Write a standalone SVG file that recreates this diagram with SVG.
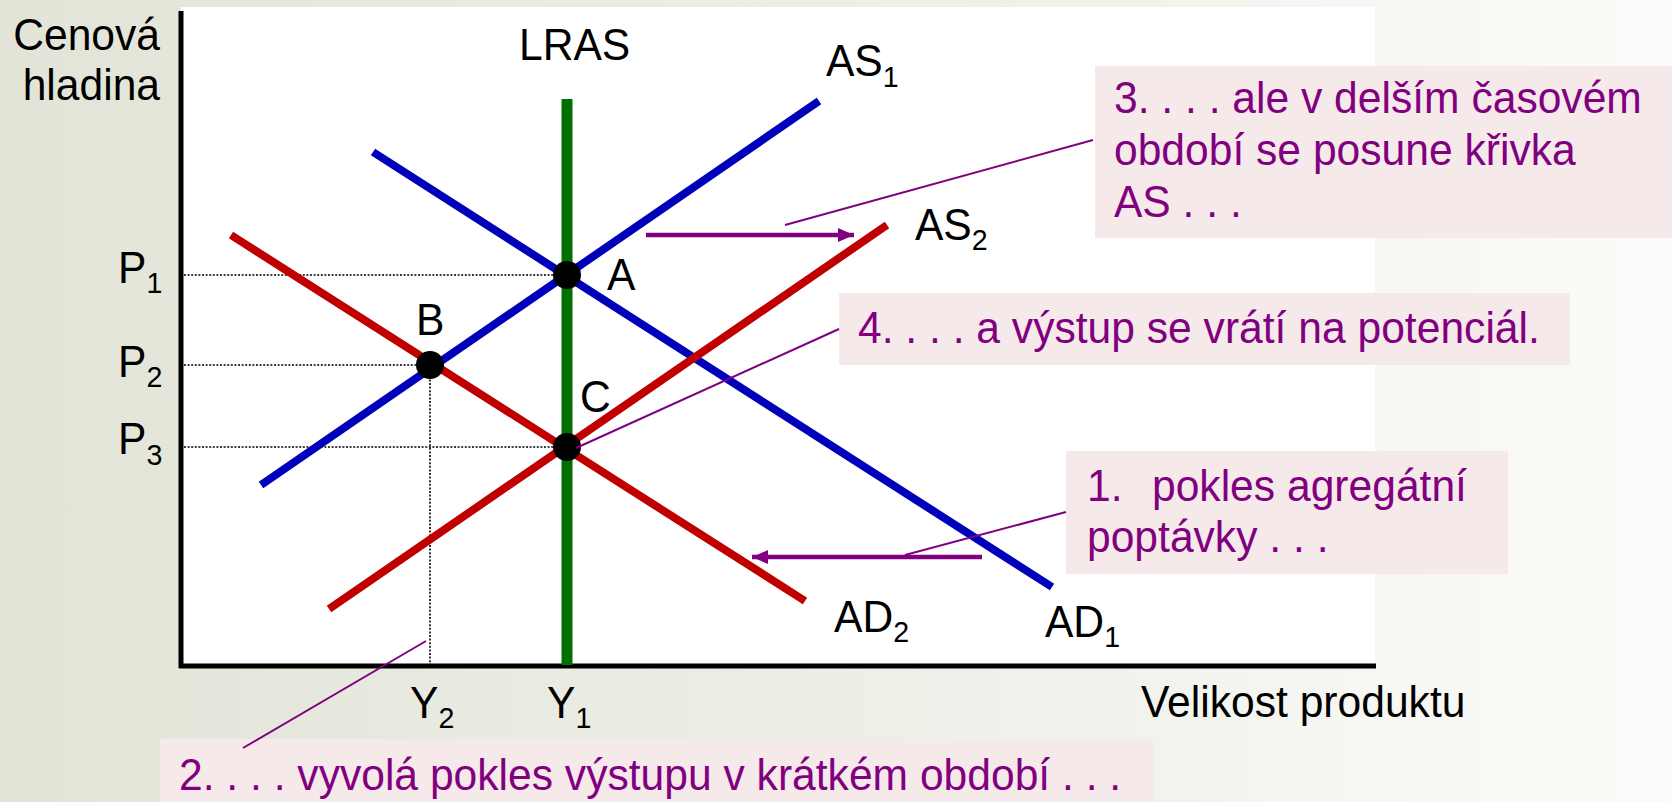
<svg xmlns="http://www.w3.org/2000/svg" width="1672" height="802" viewBox="0 0 1672 802">
<defs>
<linearGradient id="bg" x1="0" y1="0" x2="1" y2="0">
<stop offset="0" stop-color="#e2e4d7"/>
<stop offset="0.5" stop-color="#eeeee7"/>
<stop offset="1" stop-color="#fbfbf9"/>
</linearGradient>
<marker id="ah" markerUnits="userSpaceOnUse" markerWidth="18" markerHeight="18" refX="16" refY="9" orient="auto">
<path d="M0,2 L16,9 L0,16 Z" fill="#800080"/>
</marker>
<style>
.t{font-family:"Liberation Sans",Arial,sans-serif;font-size:44.7px;fill:#000}
.s{font-size:30px}
.p{font-family:"Liberation Sans",Arial,sans-serif;font-size:44.7px;fill:#800080}
.box{fill:#f6e9ea}
.dot{fill:none;stroke:#000;stroke-width:1.6;stroke-dasharray:2 1.6}
.blue{stroke:#0000bb;stroke-width:8;fill:none}
.red{stroke:#c00000;stroke-width:8;fill:none}
.lead{stroke:#800080;stroke-width:2;fill:none}
.arr{stroke:#800080;stroke-width:4.5;fill:none}
</style>
</defs>
<rect width="1672" height="802" fill="url(#bg)"/>
<rect x="181" y="7" width="1194" height="660" fill="#ffffff"/>

<g id="guides">
<line class="dot" x1="184" y1="275" x2="567" y2="275"/>
<line class="dot" x1="184" y1="365" x2="430" y2="365"/>
<line class="dot" x1="184" y1="447" x2="567" y2="447"/>
<line class="dot" x1="430" y1="365" x2="430" y2="664"/>
</g>

<g id="axes">
<line x1="181" y1="11" x2="181" y2="668" stroke="#000" stroke-width="5"/>
<line x1="179" y1="666" x2="1376" y2="666" stroke="#000" stroke-width="5"/>
</g>

<g id="LRAS">
<line x1="567" y1="99" x2="567" y2="665" stroke="#007000" stroke-width="11"/>
</g>
<g id="AD1"><line class="blue" x1="373" y1="152" x2="1052" y2="587"/></g>
<g id="AS1"><line class="blue" x1="261" y1="485" x2="819" y2="101"/></g>
<g id="AD2"><line class="red" x1="231" y1="235" x2="805" y2="601"/></g>
<g id="AS2"><line class="red" x1="329" y1="609" x2="887" y2="225"/></g>

<g id="points">
<circle id="A" cx="567" cy="275" r="14" fill="#000"/>
<circle id="B" cx="430" cy="365" r="14" fill="#000"/>
<circle id="C" cx="567" cy="447" r="14" fill="#000"/>
</g>

<g id="labels">
<text class="t" transform="scale(0.953 1)" x="167.9" y="50" text-anchor="end">Cenová</text>
<text class="t" transform="scale(0.953 1)" x="167.9" y="100" text-anchor="end">hladina</text>
<text class="t" transform="scale(0.953 1)" x="544.6" y="60">LRAS</text>
<text class="t" transform="scale(0.953 1)" x="866.7" y="76">AS<tspan class="s" dy="11">1</tspan></text>
<text class="t" transform="scale(0.953 1)" x="960.1" y="240">AS<tspan class="s" dy="10">2</tspan></text>
<text class="t" transform="scale(0.953 1)" x="636.9" y="290">A</text>
<text class="t" transform="scale(0.953 1)" x="436.5" y="335">B</text>
<text class="t" transform="scale(0.953 1)" x="608.6" y="412">C</text>
<text class="t" transform="scale(0.953 1)" x="123.8" y="283">P<tspan class="s" dy="10">1</tspan></text>
<text class="t" transform="scale(0.953 1)" x="123.8" y="377">P<tspan class="s" dy="10">2</tspan></text>
<text class="t" transform="scale(0.953 1)" x="123.8" y="454">P<tspan class="s" dy="11">3</tspan></text>
<text class="t" transform="scale(0.953 1)" x="430.2" y="718">Y<tspan class="s" dy="10">2</tspan></text>
<text class="t" transform="scale(0.953 1)" x="574" y="718">Y<tspan class="s" dy="10">1</tspan></text>
<text class="t" transform="scale(0.953 1)" x="875.1" y="632">AD<tspan class="s" dy="10">2</tspan></text>
<text class="t" transform="scale(0.953 1)" x="1096.5" y="637">AD<tspan class="s" dy="10">1</tspan></text>
<text class="t" transform="scale(0.953 1)" x="1197.3" y="717">Velikost produktu</text>
</g>

<g id="note3">
<rect class="box" x="1095" y="66" width="577" height="172"/>
<text class="p" transform="scale(0.953 1)" x="1168.9" y="113">3. . . . ale v delším časovém</text>
<text class="p" transform="scale(0.953 1)" x="1168.9" y="165">období se posune křivka</text>
<text class="p" transform="scale(0.953 1)" x="1168.9" y="217">AS . . .</text>
</g>
<g id="note4">
<rect class="box" x="839" y="293" width="731" height="72"/>
<text class="p" transform="scale(0.953 1)" x="900.3" y="343">4. . . . a výstup se vrátí na potenciál.</text>
</g>
<g id="note1">
<rect class="box" x="1066" y="451" width="442" height="123"/>
<text class="p" transform="scale(0.953 1)" x="1140.6" y="501">1.<tspan x="1208.8">pokles agregátní</tspan></text>
<text class="p" transform="scale(0.953 1)" x="1140.6" y="552">poptávky . . .</text>
</g>
<g id="note2">
<rect class="box" x="160" y="739" width="993" height="63"/>
<text class="p" transform="scale(0.953 1)" x="187.8" y="790">2. . . . vyvolá pokles výstupu v krátkém období . . .</text>
</g>

<g id="connectors">
<line class="arr" x1="646" y1="235" x2="854" y2="235" marker-end="url(#ah)"/>
<line class="arr" x1="982" y1="557" x2="752" y2="557" marker-end="url(#ah)"/>
<line class="lead" x1="1093" y1="140" x2="785" y2="225"/>
<line class="lead" x1="839" y1="329" x2="576" y2="448"/>
<line class="lead" x1="1066" y1="512" x2="905" y2="555"/>
<line class="lead" x1="243" y1="748" x2="426" y2="641"/>
</g>
</svg>
